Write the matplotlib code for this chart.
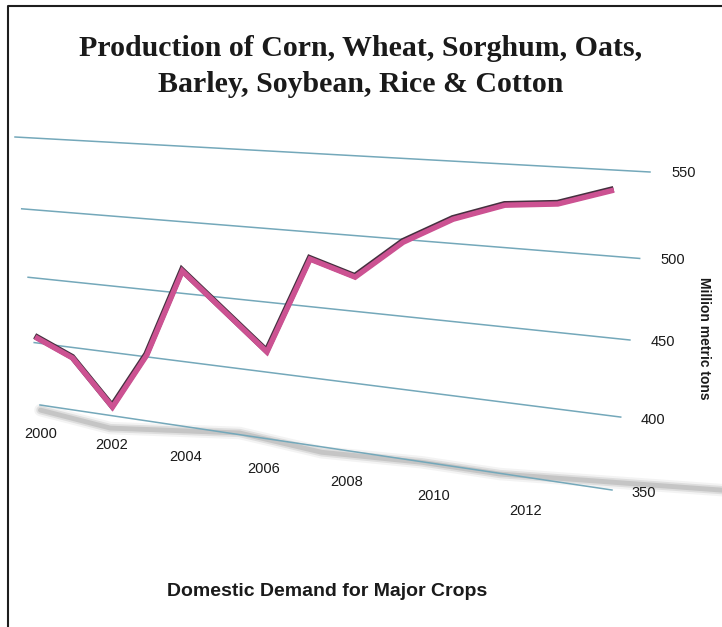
import numpy as np
import matplotlib
matplotlib.use('Agg')
import matplotlib.pyplot as plt
import matplotlib.patheffects as pe
from matplotlib.lines import Line2D
from matplotlib.transforms import Transform

# Domestic demand for major crops, million metric tons
years = [2000, 2001, 2002, 2003, 2004, 2006, 2007, 2008, 2009, 2010, 2011, 2012, 2013]
demand = [404.5, 391.7, 357.0, 401.3, 465.8, 414.7, 482.1, 472.9, 498.2, 515.0, 525.7, 528.5, 538.6]

grid_values = [350, 400, 450, 500, 550]
year_ticks = [2000, 2002, 2004, 2006, 2008, 2010, 2012]

# soft grey floor shadow under the chart
shadow_years = [1999.96, 2001.9, 2005.3, 2007.3, 2009.6, 2011.3, 2015.7]
shadow_values = [345.8, 339.7, 351.3, 345.9, 349.6, 349.5, 360.9]

X_MIN, X_MAX = 1999.96, 2013.6
Y_MIN, Y_MAX = 350, 550

W, H_PX = 722, 627
# plot plane corners on the page (pixels): top-left, top-right, bottom-left, bottom-right
FRAME = [(15, 137), (650, 172), (40, 405), (612, 490)]

PINK = '#cc5292'
PINK_EDGE = '#45303f'
GRID = '#74a8ba'


def homography(src, dst):
    A, b = [], []
    for (x, y), (X, Y) in zip(src, dst):
        A.append([x, y, 1, 0, 0, 0, -X * x, -X * y]); b.append(X)
        A.append([0, 0, 0, x, y, 1, -Y * x, -Y * y]); b.append(Y)
    h = np.linalg.solve(np.array(A, float), np.array(b, float))
    return np.append(h, 1).reshape(3, 3)


class PerspectiveTransform(Transform):
    """(year, value) -> page pixels, tilted like a plane seen at an angle."""
    input_dims = output_dims = 2
    is_separable = False
    has_inverse = False

    def __init__(self, mat):
        super().__init__()
        self.mat = mat

    def transform_non_affine(self, values):
        v = np.atleast_2d(np.asarray(values, float))
        u = (v[:, 0] - X_MIN) / (X_MAX - X_MIN)
        w = (v[:, 1] - Y_MIN) / (Y_MAX - Y_MIN)
        p = np.column_stack([u, w, np.ones_like(u)]) @ self.mat.T
        return p[:, :2] / p[:, 2:3]


fig = plt.figure(figsize=(W / 100, H_PX / 100), dpi=100)
ax = fig.add_axes([0, 0, 1, 1])
ax.set_autoscale_on(False)
ax.set_xlim(0, W)
ax.set_ylim(H_PX, 0)
ax.axis('off')

mat = homography([(0, 1), (1, 1), (0, 0), (1, 0)], FRAME)
persp = PerspectiveTransform(mat) + ax.transData

# floor shadow
for lw, a in [(9, 0.12), (6, 0.25), (3.5, 0.4)]:
    ax.plot(shadow_years, shadow_values, color='#a0a0a0', lw=lw, alpha=a,
            solid_capstyle='round', solid_joinstyle='round', transform=persp, zorder=1)

for v in grid_values:
    ax.plot([X_MIN, X_MAX], [v, v], color=GRID, lw=1.1, transform=persp, zorder=2)
    ax.text(X_MAX + 0.38, v, str(v), transform=persp, ha='left', va='center',
            fontsize=10.5, family='Liberation Sans', color='#1a1a1a')

for yr in year_ticks:
    ax.text(yr - 0.1, 326, str(yr), transform=persp, ha='center', va='center',
            fontsize=10.5, family='Liberation Sans', color='#1a1a1a')

ax.plot(years, demand, color=PINK, lw=3.9, transform=persp, zorder=4,
        solid_joinstyle='miter', solid_capstyle='butt',
        path_effects=[pe.Stroke(linewidth=4.4, foreground=PINK_EDGE, offset=(-0.3, 0.8)),
                      pe.Normal()])

fig.text(0.5, 1 - 48 / H_PX, 'Production of Corn, Wheat, Sorghum, Oats,', ha='center', va='center',
         fontsize=21.5, family='Liberation Serif', weight='bold', color='#1a1a1a')
fig.text(0.5, 1 - 84 / H_PX, 'Barley, Soybean, Rice & Cotton', ha='center', va='center',
         fontsize=21.5, family='Liberation Serif', weight='bold', color='#1a1a1a')

fig.text(704 / W, 1 - 338 / H_PX, 'Million metric tons', rotation=-90, ha='center', va='center',
         fontsize=10, family='Liberation Sans', weight='bold', color='#1a1a1a')
fig.text(327 / W, 1 - 592 / H_PX, 'Domestic Demand for Major Crops', ha='center', va='center',
         fontsize=14, family='Liberation Sans', weight='bold', color='#1a1a1a')

# page frame: top and left rules
fig.add_artist(Line2D([8 / W, 8 / W, 1], [0, 1 - 6 / H_PX, 1 - 6 / H_PX],
                      transform=fig.transFigure, color='#1e1e1e', lw=1.5))

fig.savefig('out.png', dpi=100)
